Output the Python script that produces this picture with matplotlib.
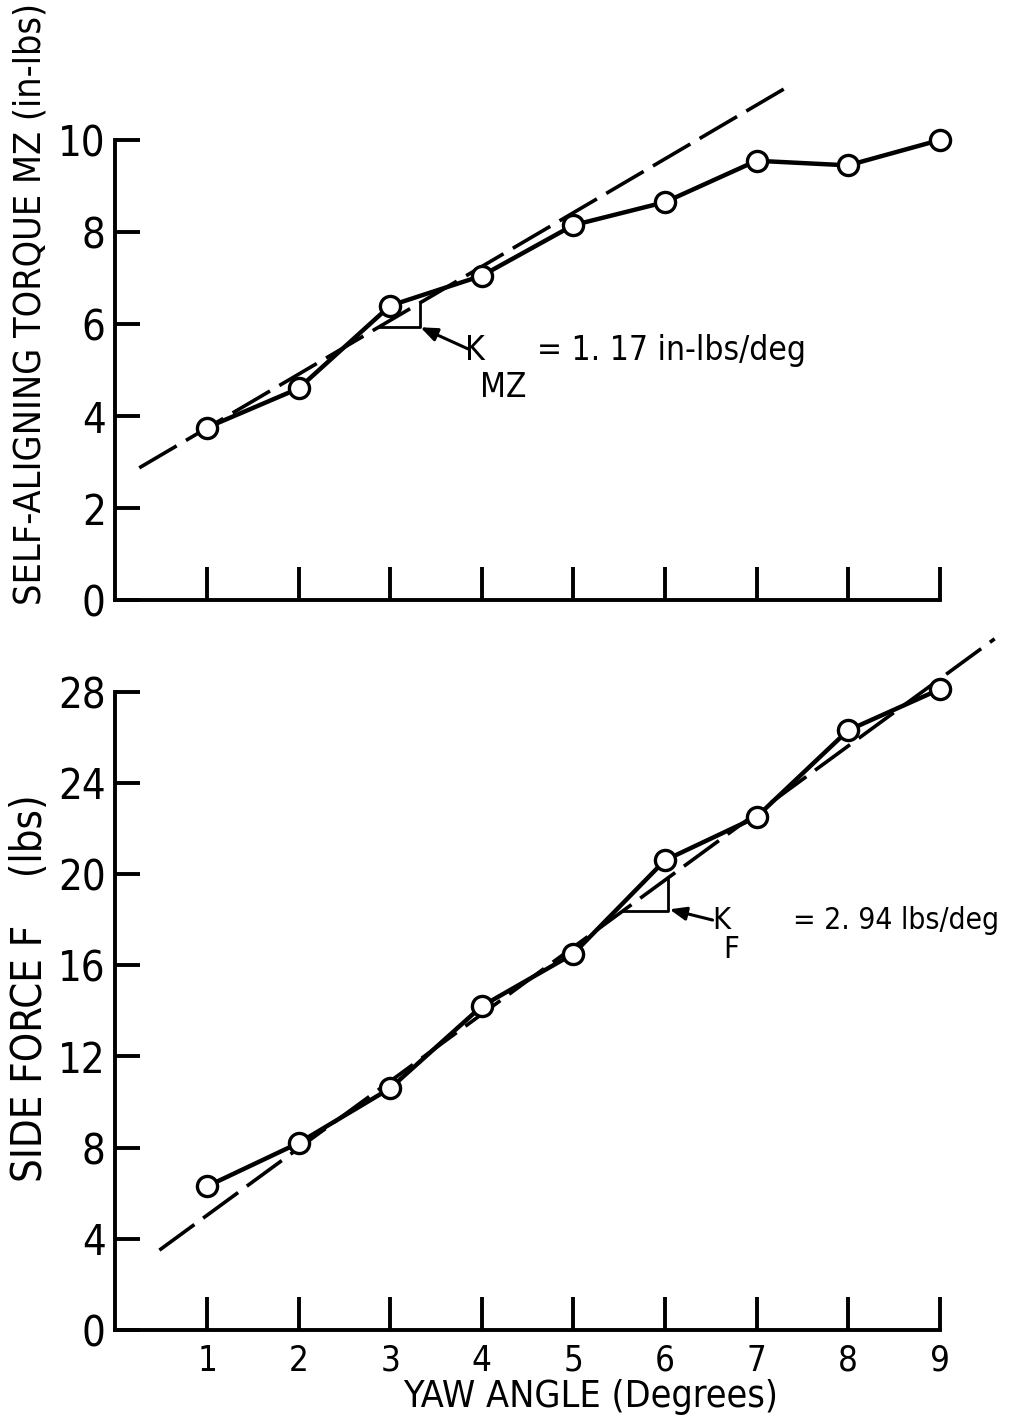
"""Yaw angle vs self-aligning torque and side force, two stacked panels."""
import matplotlib
matplotlib.use("Agg")
import matplotlib.pyplot as plt
from matplotlib import font_manager
import numpy as np

# ---- data ----
yaw = [1, 2, 3, 4, 5, 6, 7, 8, 9]
torque_mz = [3.75, 4.6, 6.4, 7.05, 8.15, 8.65, 9.55, 9.45, 10.0]
side_force = [6.3, 8.2, 10.6, 14.2, 16.5, 20.6, 22.5, 26.3, 28.1]

k_mz, b_mz = 1.17, 2.57          # dashed fit, torque
k_f, b_f = 2.94, 2.09            # dashed fit, side force
fit_x_mz = [0.26, 7.36]
fit_x_f = [0.48, 9.6]

mz_ticks = [0, 2, 4, 6, 8, 10]
f_ticks = [0, 4, 8, 12, 16, 20, 24, 28]

# ---- font: want something condensed ----
names = {f.name for f in font_manager.fontManager.ttflist}
FONT = "Liberation Sans Narrow" if "Liberation Sans Narrow" in names else "DejaVu Sans"
plt.rcParams["font.family"] = [FONT, "DejaVu Sans"]
plt.rcParams["font.stretch"] = "condensed"

W, H = 1010, 1427
fig = plt.figure(figsize=(W / 100, H / 100), dpi=100)

LW = 3.2       # solid data line
DLW = 2.6      # dashed fit
SPW = 2.8      # spines / ticks


def style_axes(ax, ymax, yticks, show_xlabels):
    for s in ("top", "right"):
        ax.spines[s].set_visible(False)
    ax.spines["left"].set_bounds(0, ymax)
    ax.spines["bottom"].set_bounds(0, 9)
    for s in ("left", "bottom"):
        ax.spines[s].set_linewidth(SPW)
    ax.set_xticks(yaw)
    ax.set_yticks(yticks)
    ax.tick_params(axis="y", direction="in", length=18, width=SPW, pad=7, labelsize=30)
    ax.tick_params(axis="x", direction="in", length=24, width=SPW, pad=10, labelsize=25)
    if not show_xlabels:
        ax.set_xticklabels([])


def plot_series(ax, y, k, b, fit_x):
    fx = np.array(fit_x)
    ax.plot(fx, k * fx + b, color="black", lw=DLW, dashes=(12, 3),
            clip_on=False, zorder=2)
    ax.plot(yaw, y, color="black", lw=LW, marker="o", ms=14.5,
            mfc="white", mec="black", mew=2.4, clip_on=False, zorder=3)


def slope_triangle(ax, y0, x1, k, b, tail, head):
    x0 = (y0 - b) / k
    ax.plot([x0, x1, x1], [y0, y0, k * x1 + b], color="black", lw=2.0,
            clip_on=False, zorder=2)
    ax.annotate("", xy=head, xytext=tail,
                arrowprops=dict(arrowstyle="-|>,head_length=1.0,head_width=0.4",
                                color="black", lw=2.2, shrinkA=0, shrinkB=0))


# ---- top: self-aligning torque ----
ax1 = fig.add_axes([0.1143, 0.5795, 0.8614, 0.3707])
ax1.set_xlim(0, 9.5)
ax1.set_ylim(0, 11.5)
style_axes(ax1, 10, mz_ticks, False)
plot_series(ax1, torque_mz, k_mz, b_mz, fit_x_mz)
slope_triangle(ax1, 5.93, 3.33, k_mz, b_mz, tail=(3.85, 5.46), head=(3.33, 5.93))
ax1.text(3.82, 5.22, "K", fontsize=24, va="baseline", ha="left")
ax1.text(3.98, 4.41, "MZ", fontsize=24, va="baseline", ha="left")
ax1.text(4.6, 5.22, "= 1. 17 in-lbs/deg", fontsize=24, va="baseline", ha="left")

# ---- bottom: side force ----
ax2 = fig.add_axes([0.1143, 0.0680, 0.8614, 0.4793])
ax2.set_xlim(0, 9.5)
ax2.set_ylim(0, 30)
style_axes(ax2, 28, f_ticks, True)
plot_series(ax2, side_force, k_f, b_f, fit_x_f)
slope_triangle(ax2, 18.37, 6.03, k_f, b_f, tail=(6.52, 17.98), head=(6.05, 18.45))
ax2.text(6.52, 17.6, "K", fontsize=22, va="baseline", ha="left")
ax2.text(6.64, 16.3, "F", fontsize=22, va="baseline", ha="left")
ax2.text(7.40, 17.6, "= 2. 94 lbs/deg", fontsize=21.5, va="baseline", ha="left")

# ---- axis titles ----
fig.text(0.030, 0.787, "SELF-ALIGNING TORQUE MZ (in-lbs)", rotation=90,
         ha="center", va="center", fontsize=27)
fig.text(0.030, 0.3076, "SIDE FORCE F    (lbs)", rotation=90,
         ha="center", va="center", fontsize=30)
fig.text(0.585, 0.021, "YAW ANGLE (Degrees)", ha="center", va="center", fontsize=27)

fig.savefig("out.png", dpi=100)
